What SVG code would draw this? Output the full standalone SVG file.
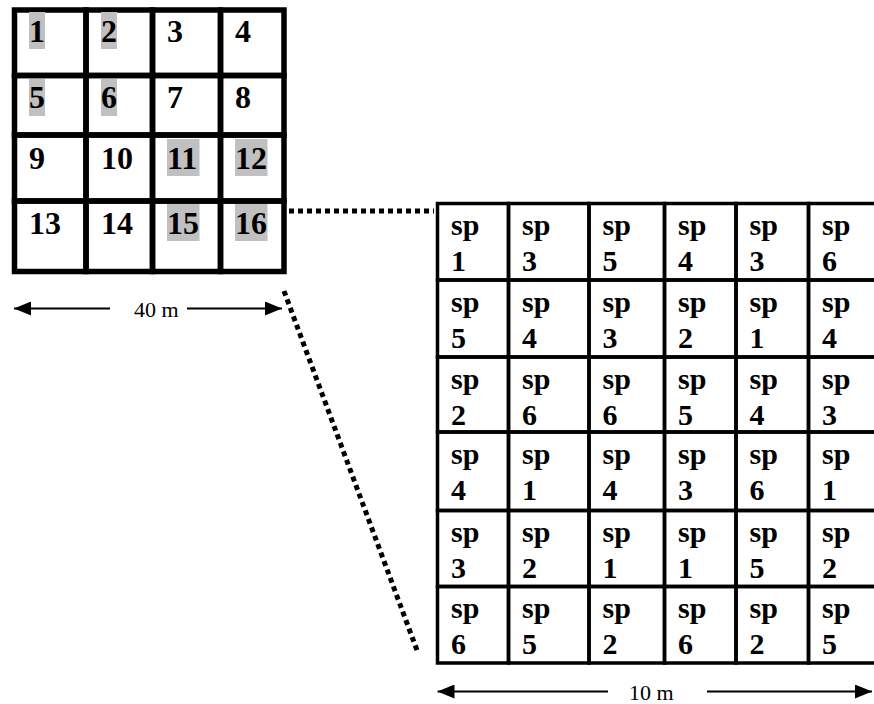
<svg xmlns="http://www.w3.org/2000/svg" width="874" height="704" viewBox="0 0 874 704">
<defs>
<style>
.bg{fill:#ffffff}
.lc{fill:none;stroke:#000;stroke-width:5.5}
.rc{fill:none;stroke:#000;stroke-width:3.5}
.hl{fill:#c0c0c0}
.lt{font-family:"Liberation Serif","Times New Roman",serif;font-weight:bold;font-size:32px;fill:#000}
.rt{font-family:"Liberation Serif","Times New Roman",serif;font-weight:bold;font-size:30px;fill:#000}
.dim{font-family:"Liberation Serif","Times New Roman",serif;font-size:22px;fill:#000}
.dot{fill:none;stroke:#000;stroke-width:5;stroke-dasharray:5 4}
.arr{fill:none;stroke:#000;stroke-width:1.8;marker-end:url(#ah)}
</style>
<marker id="ah" viewBox="0 0 17 14" refX="17" refY="7" markerWidth="17" markerHeight="14" markerUnits="userSpaceOnUse" orient="auto">
<path d="M0,0 L17,7 L0,14 Z" fill="#000"/>
</marker>
</defs>
<rect class="bg" x="0" y="0" width="874" height="704"/>

<g id="plots">
<g id="plot-1"><rect class="lc" x="14.5" y="10" width="71.5" height="65.5"/><rect class="hl" x="29" y="12" width="16" height="37"/><text class="lt" x="29" y="42">1</text></g>
<g id="plot-2"><rect class="lc" x="86" y="10" width="66.5" height="65.5"/><rect class="hl" x="101" y="12" width="16" height="37"/><text class="lt" x="101" y="42">2</text></g>
<g id="plot-3"><rect class="lc" x="152.5" y="10" width="68" height="65.5"/><text class="lt" x="167" y="42">3</text></g>
<g id="plot-4"><rect class="lc" x="220.5" y="10" width="63.5" height="65.5"/><text class="lt" x="235" y="42">4</text></g>

<g id="plot-5"><rect class="lc" x="14.5" y="75.5" width="71.5" height="59.5"/><rect class="hl" x="29" y="79" width="16" height="37"/><text class="lt" x="29" y="108">5</text></g>
<g id="plot-6"><rect class="lc" x="86" y="75.5" width="66.5" height="59.5"/><rect class="hl" x="101" y="79" width="16" height="37"/><text class="lt" x="101" y="108">6</text></g>
<g id="plot-7"><rect class="lc" x="152.5" y="75.5" width="68" height="59.5"/><text class="lt" x="167" y="108">7</text></g>
<g id="plot-8"><rect class="lc" x="220.5" y="75.5" width="63.5" height="59.5"/><text class="lt" x="235" y="108">8</text></g>

<g id="plot-9"><rect class="lc" x="14.5" y="135" width="71.5" height="66"/><text class="lt" x="29" y="169">9</text></g>
<g id="plot-10"><rect class="lc" x="86" y="135" width="66.5" height="66"/><text class="lt" x="101" y="169">10</text></g>
<g id="plot-11"><rect class="lc" x="152.5" y="135" width="68" height="66"/><rect class="hl" x="167" y="139" width="32.5" height="37"/><text class="lt" x="167" y="169">11</text></g>
<g id="plot-12"><rect class="lc" x="220.5" y="135" width="63.5" height="66"/><rect class="hl" x="235" y="139" width="32.5" height="37"/><text class="lt" x="235" y="169">12</text></g>

<g id="plot-13"><rect class="lc" x="14.5" y="201" width="71.5" height="70.5"/><text class="lt" x="29" y="234">13</text></g>
<g id="plot-14"><rect class="lc" x="86" y="201" width="66.5" height="70.5"/><text class="lt" x="101" y="234">14</text></g>
<g id="plot-15"><rect class="lc" x="152.5" y="201" width="68" height="70.5"/><rect class="hl" x="167" y="204" width="32.5" height="37"/><text class="lt" x="167" y="234">15</text></g>
<g id="plot-16"><rect class="lc" x="220.5" y="201" width="63.5" height="70.5"/><rect class="hl" x="235" y="204" width="32.5" height="37"/><text class="lt" x="235" y="234">16</text></g>
</g>

<g id="subplot">
<g id="r1c1"><rect class="rc" x="437.5" y="203.5" width="71" height="76.5"/><text class="rt" x="451" y="235">sp</text><text class="rt" x="451" y="271">1</text></g>
<g id="r1c2"><rect class="rc" x="508.5" y="203.5" width="80.5" height="76.5"/><text class="rt" x="522" y="235">sp</text><text class="rt" x="522" y="271">3</text></g>
<g id="r1c3"><rect class="rc" x="589" y="203.5" width="75.5" height="76.5"/><text class="rt" x="602.5" y="235">sp</text><text class="rt" x="602.5" y="271">5</text></g>
<g id="r1c4"><rect class="rc" x="664.5" y="203.5" width="71.5" height="76.5"/><text class="rt" x="678" y="235">sp</text><text class="rt" x="678" y="271">4</text></g>
<g id="r1c5"><rect class="rc" x="736" y="203.5" width="72.5" height="76.5"/><text class="rt" x="749.5" y="235">sp</text><text class="rt" x="749.5" y="271">3</text></g>
<g id="r1c6"><rect class="rc" x="808.5" y="203.5" width="72.5" height="76.5"/><text class="rt" x="822" y="235">sp</text><text class="rt" x="822" y="271">6</text></g>

<g id="r2c1"><rect class="rc" x="437.5" y="280" width="71" height="77"/><text class="rt" x="451" y="311.5">sp</text><text class="rt" x="451" y="347.5">5</text></g>
<g id="r2c2"><rect class="rc" x="508.5" y="280" width="80.5" height="77"/><text class="rt" x="522" y="311.5">sp</text><text class="rt" x="522" y="347.5">4</text></g>
<g id="r2c3"><rect class="rc" x="589" y="280" width="75.5" height="77"/><text class="rt" x="602.5" y="311.5">sp</text><text class="rt" x="602.5" y="347.5">3</text></g>
<g id="r2c4"><rect class="rc" x="664.5" y="280" width="71.5" height="77"/><text class="rt" x="678" y="311.5">sp</text><text class="rt" x="678" y="347.5">2</text></g>
<g id="r2c5"><rect class="rc" x="736" y="280" width="72.5" height="77"/><text class="rt" x="749.5" y="311.5">sp</text><text class="rt" x="749.5" y="347.5">1</text></g>
<g id="r2c6"><rect class="rc" x="808.5" y="280" width="72.5" height="77"/><text class="rt" x="822" y="311.5">sp</text><text class="rt" x="822" y="347.5">4</text></g>

<g id="r3c1"><rect class="rc" x="437.5" y="357" width="71" height="75"/><text class="rt" x="451" y="388.5">sp</text><text class="rt" x="451" y="424.5">2</text></g>
<g id="r3c2"><rect class="rc" x="508.5" y="357" width="80.5" height="75"/><text class="rt" x="522" y="388.5">sp</text><text class="rt" x="522" y="424.5">6</text></g>
<g id="r3c3"><rect class="rc" x="589" y="357" width="75.5" height="75"/><text class="rt" x="602.5" y="388.5">sp</text><text class="rt" x="602.5" y="424.5">6</text></g>
<g id="r3c4"><rect class="rc" x="664.5" y="357" width="71.5" height="75"/><text class="rt" x="678" y="388.5">sp</text><text class="rt" x="678" y="424.5">5</text></g>
<g id="r3c5"><rect class="rc" x="736" y="357" width="72.5" height="75"/><text class="rt" x="749.5" y="388.5">sp</text><text class="rt" x="749.5" y="424.5">4</text></g>
<g id="r3c6"><rect class="rc" x="808.5" y="357" width="72.5" height="75"/><text class="rt" x="822" y="388.5">sp</text><text class="rt" x="822" y="424.5">3</text></g>

<g id="r4c1"><rect class="rc" x="437.5" y="432" width="71" height="78.5"/><text class="rt" x="451" y="463.5">sp</text><text class="rt" x="451" y="499.5">4</text></g>
<g id="r4c2"><rect class="rc" x="508.5" y="432" width="80.5" height="78.5"/><text class="rt" x="522" y="463.5">sp</text><text class="rt" x="522" y="499.5">1</text></g>
<g id="r4c3"><rect class="rc" x="589" y="432" width="75.5" height="78.5"/><text class="rt" x="602.5" y="463.5">sp</text><text class="rt" x="602.5" y="499.5">4</text></g>
<g id="r4c4"><rect class="rc" x="664.5" y="432" width="71.5" height="78.5"/><text class="rt" x="678" y="463.5">sp</text><text class="rt" x="678" y="499.5">3</text></g>
<g id="r4c5"><rect class="rc" x="736" y="432" width="72.5" height="78.5"/><text class="rt" x="749.5" y="463.5">sp</text><text class="rt" x="749.5" y="499.5">6</text></g>
<g id="r4c6"><rect class="rc" x="808.5" y="432" width="72.5" height="78.5"/><text class="rt" x="822" y="463.5">sp</text><text class="rt" x="822" y="499.5">1</text></g>

<g id="r5c1"><rect class="rc" x="437.5" y="510.5" width="71" height="76"/><text class="rt" x="451" y="542">sp</text><text class="rt" x="451" y="578">3</text></g>
<g id="r5c2"><rect class="rc" x="508.5" y="510.5" width="80.5" height="76"/><text class="rt" x="522" y="542">sp</text><text class="rt" x="522" y="578">2</text></g>
<g id="r5c3"><rect class="rc" x="589" y="510.5" width="75.5" height="76"/><text class="rt" x="602.5" y="542">sp</text><text class="rt" x="602.5" y="578">1</text></g>
<g id="r5c4"><rect class="rc" x="664.5" y="510.5" width="71.5" height="76"/><text class="rt" x="678" y="542">sp</text><text class="rt" x="678" y="578">1</text></g>
<g id="r5c5"><rect class="rc" x="736" y="510.5" width="72.5" height="76"/><text class="rt" x="749.5" y="542">sp</text><text class="rt" x="749.5" y="578">5</text></g>
<g id="r5c6"><rect class="rc" x="808.5" y="510.5" width="72.5" height="76"/><text class="rt" x="822" y="542">sp</text><text class="rt" x="822" y="578">2</text></g>

<g id="r6c1"><rect class="rc" x="437.5" y="586.5" width="71" height="76.5"/><text class="rt" x="451" y="618">sp</text><text class="rt" x="451" y="654">6</text></g>
<g id="r6c2"><rect class="rc" x="508.5" y="586.5" width="80.5" height="76.5"/><text class="rt" x="522" y="618">sp</text><text class="rt" x="522" y="654">5</text></g>
<g id="r6c3"><rect class="rc" x="589" y="586.5" width="75.5" height="76.5"/><text class="rt" x="602.5" y="618">sp</text><text class="rt" x="602.5" y="654">2</text></g>
<g id="r6c4"><rect class="rc" x="664.5" y="586.5" width="71.5" height="76.5"/><text class="rt" x="678" y="618">sp</text><text class="rt" x="678" y="654">6</text></g>
<g id="r6c5"><rect class="rc" x="736" y="586.5" width="72.5" height="76.5"/><text class="rt" x="749.5" y="618">sp</text><text class="rt" x="749.5" y="654">2</text></g>
<g id="r6c6"><rect class="rc" x="808.5" y="586.5" width="72.5" height="76.5"/><text class="rt" x="822" y="618">sp</text><text class="rt" x="822" y="654">5</text></g>
</g>

<g id="connectors">
<path class="dot" d="M289 211 H434"/>
<path class="dot" d="M284 291 L418 653"/>
<path class="arr" d="M110 308.5 H14"/>
<path class="arr" d="M187 308.5 H282"/>
<path class="arr" d="M608 691.5 H437.5"/>
<path class="arr" d="M707 691.5 H872"/>
<text class="dim" x="134" y="317">40 m</text>
<text class="dim" x="629" y="700">10 m</text>
</g>
</svg>
